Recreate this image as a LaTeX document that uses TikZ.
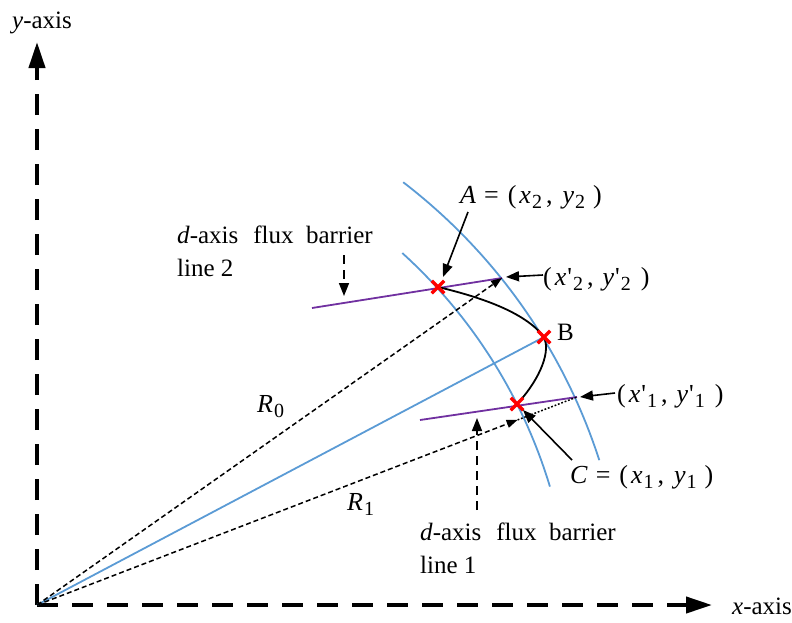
\documentclass[tikz,border=0pt]{standalone}
\usepackage{fontspec}
\setmainfont{Liberation Serif}
\usetikzlibrary{arrows.meta,shapes.misc,calc}
\definecolor{arcblue}{RGB}{91,155,213}
\definecolor{barpurple}{RGB}{112,48,160}
\newcommand\sbs[1]{\hspace{1pt}\raisebox{-5pt}{\fontsize{20}{20}\selectfont #1}}
\newcommand\qs{\hspace{1pt}\textquotesingle}
\begin{document}
\begin{tikzpicture}[x=1pt,y=-1pt,
  lbl/.style={font=\fontsize{25}{33}\selectfont, inner sep=0pt},
  mlbl/.style={font=\fontsize{26}{33}\selectfont, inner sep=0pt},
  axisline/.style={line width=4pt, dash pattern=on 21pt off 14pt, -{Triangle[length=26pt,width=16pt]}},
  arcline/.style={arcblue, line width=1.8pt},
  barline/.style={barpurple, line width=1.8pt},
  radline/.style={line width=1.5pt, dash pattern=on 5pt off 3pt, -{Triangle[length=11pt,width=8pt]}},
  dotline/.style={line width=1.5pt, dash pattern=on 1.8pt off 1.8pt},
  callout/.style={line width=1.6pt, -{Triangle[length=13pt,width=10pt]}},
  dcallout/.style={line width=1.6pt, dash pattern=on 9pt off 6pt, -{Triangle[length=13pt,width=10pt]}},
  curveline/.style={line width=1.8pt},
  xmark/.style={cross out, draw=red, line width=3.5pt, minimum size=9pt, inner sep=0pt}
]
\useasboundingbox (0,0) rectangle (792,622);
% key points
\coordinate (O) at (37,605);
\coordinate (Ytip) at (37,42);
\coordinate (Xtip) at (712,605);
\coordinate (A) at (438,287);
\coordinate (B) at (544,337);
\coordinate (C) at (517,404);
\coordinate (P2) at (502,278);
\coordinate (P1) at (577,397);
\coordinate (L2s) at (312,308);
\coordinate (L1s) at (420,420);
\coordinate (R1tip) at ($(O)!0.89!(P1)$);
% axes
\draw[axisline] (O) -- (Ytip);
\draw[axisline] (O) -- (Xtip);
% arcs
\draw[arcline] plot[domain=52.5:17.9, samples=80] ({55+572*cos(\x)}, {636-572*sin(\x)});
\draw[arcline] plot[domain=47.8:16.8, samples=80] ({55+517*cos(\x)}, {636-517*sin(\x)});
% blue radius to B
\draw[arcline] (O) -- (B);
% flux barrier lines
\draw[barline] (L2s) -- (P2);
\draw[barline] (L1s) -- (P1);
% radii
\draw[radline] (O) -- (P2);
\draw[radline] (O) -- (R1tip);
\draw[dotline] (R1tip) -- (P1);
% curve A-B-C
\draw[curveline] (A) .. controls (480,297) and (525,312) .. (B)
                     .. controls (552,355) and (535,385) .. (C);
% crosses
\node[xmark] (mA) at (A) {};
\node[xmark] (mB) at (B) {};
\node[xmark] (mC) at (C) {};
% labels
\node[lbl, anchor=base west] (ylab) at (12,28) {\textit{y}-axis};
\node[lbl, anchor=base west] (xlab) at (732,614) {\textit{x}-axis};
\node[mlbl, anchor=base west] (Alab) at (460,203) {\textit{A}\hspace{8pt}=\hspace{9pt}(\hspace{3pt}\textit{x}\sbs{2}\hspace{4pt},\hspace{10pt}\textit{y}\sbs{2}\hspace{8pt})};
\node[mlbl, anchor=base west] (P2lab) at (543,285) {(\hspace{3pt}\textit{x}\qs\sbs{2}\hspace{4pt},\hspace{9pt}\textit{y}\qs\sbs{2}\hspace{10pt})};
\node[lbl, anchor=base west] (Blab) at (557,340) {B};
\node[mlbl, anchor=base west] (P1lab) at (617,402) {(\hspace{3pt}\textit{x}\qs\sbs{1}\hspace{4pt},\hspace{9pt}\textit{y}\qs\sbs{1}\hspace{10pt})};
\node[mlbl, anchor=base west] (Clab) at (570,483) {\textit{C}\hspace{8pt}=\hspace{9pt}(\hspace{3pt}\textit{x}\sbs{1}\hspace{4pt},\hspace{10pt}\textit{y}\sbs{1}\hspace{8pt})};
\node[mlbl, anchor=base west] (R0lab) at (257,412) {\textit{R}\sbs{0}};
\node[mlbl, anchor=base west] (R1lab) at (347,510) {\textit{R}\sbs{1}};
\node[lbl, anchor=north west, align=left] (F2lab) at (177,226) {\textit{d}-axis\hspace{0.6em}flux\hspace{0.5em}barrier\\line 2};
\node[lbl, anchor=north west, align=left] (F1lab) at (420,523) {\textit{d}-axis\hspace{0.6em}flux\hspace{0.5em}barrier\\line 1};
% callout arrows
\coordinate (Aarr) at (468,212);
\coordinate (P2arr) at (543,275);
\coordinate (P1arr) at (615,393);
\coordinate (Carr) at (572,460);
\coordinate (F2top) at (344,255);
\coordinate (F2tip) at (344,296);
\coordinate (F1bot) at (477,510);
\coordinate (F1tip) at (477,418);
\draw[callout] (Aarr) -- (443,277);
\draw[callout] (P2arr) -- (506,277);
\draw[callout] (P1arr) -- (580,397);
\draw[callout] (Carr) -- (523,410);
\draw[dcallout] (F2top) -- (F2tip);
\draw[dcallout] (F1bot) -- (F1tip);
\end{tikzpicture}
\end{document}
